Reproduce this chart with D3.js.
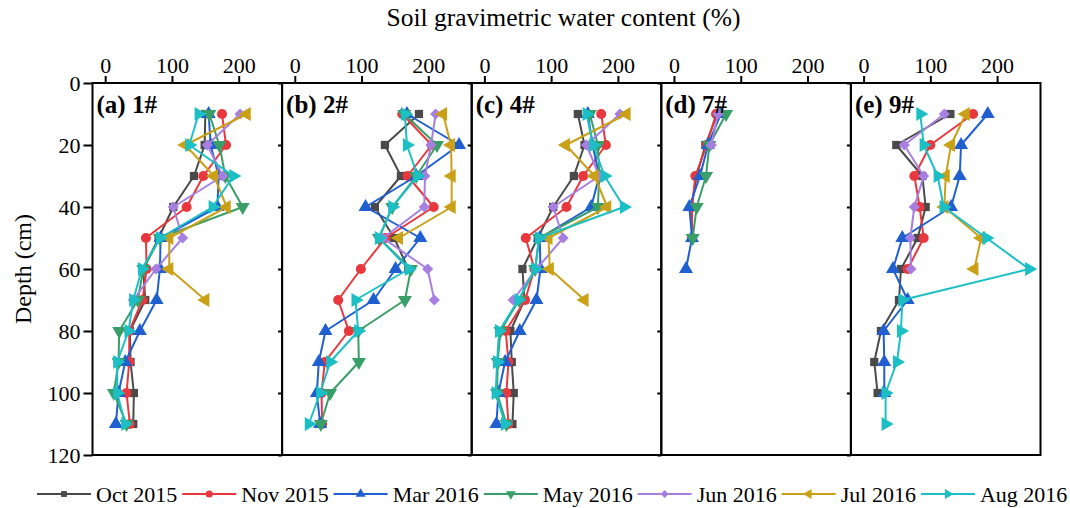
<!DOCTYPE html>
<html>
<head>
<meta charset="utf-8">
<script src="https://cdn.jsdelivr.net/npm/d3@7"></script>
<style>
  body { margin: 0; background: #fff; }
  svg { display: block; }
  text { font-family: "Liberation Serif", "Times New Roman", serif; fill: #000; }
</style>
</head>
<body>
<svg id="chart" width="1070" height="508"></svg>
<script>
// Sampling depths (cm)
const depths = [10, 20, 30, 40, 50, 60, 70, 80, 90, 100, 110];

// Sampling campaigns
const seriesNames = ["Oct 2015", "Nov 2015", "Mar 2016", "May 2016", "Jun 2016", "Jul 2016", "Aug 2016"];

// Site panels
const siteLabels = ["(a) 1#", "(b) 2#", "(c) 4#", "(d) 7#", "(e) 9#"];

// Axis ticks
const xTicks = [0, 100, 200];
const yTicks = [0, 20, 40, 60, 80, 100, 120];

// Gravimetric water content (%) per campaign, by depth; null = not sampled
const site1 = [
  [150, 149, 133, 102, 80, 57, 60, 37, 38, 43, 42],
  [175, 181, 147, 122, 61, 62, 56, 36, 36, 32, 37],
  [155, 158, 170, 168, 83, 82, 77, 52, 30, 20, 16],
  [156, 171, 180, 206, 82, 57, 49, 21, 20, 13, 32],
  [202, 153, 176, 102, 116, 76, 42, null, null, null, null],
  [212, 120, 163, 182, 96, 96, 150, null, null, null, null],
  [140, 126, 192, 161, 82, 55, 42, 35, 18, 18, 30]
];
const site2 = [
  [186, 135, 159, 120, 149, 170, null, null, null, null, null],
  [161, 205, 169, 208, 136, 99, 65, 81, 45, 40, 41],
  [168, 246, 182, 106, 188, 151, 118, 46, 36, 33, 38],
  [164, 213, 182, 146, 126, 174, 165, 95, 96, 53, 39],
  [211, 204, 195, 194, 132, 199, 209, null, null, null, null],
  [222, 234, 235, 235, 156, null, null, null, null, null, null],
  [165, 168, 184, 146, 126, 171, 91, 95, 53, 38, 21]
];
const site4 = [
  [140, 150, 134, 103, 80, 57, 60, 39, 41, 44, 42],
  [175, 182, 148, 123, 62, 75, 61, 32, 36, 33, 36],
  [155, 162, 172, 160, 83, 84, 78, 53, 31, 21, 18],
  [158, 170, 172, 170, 82, 76, 52, 24, 20, 19, 33],
  [203, 153, 172, 103, 118, 78, 43, null, null, null, null],
  [213, 122, 165, 184, 96, 98, 150, null, null, null, null],
  [153, 163, 180, 209, 82, 76, 51, 22, 19, 17, 31]
];
const site7 = [
  [65, 47, 34, 26, 28, null, null, null, null, null, null],
  [63, 49, 32, 27, 27, null, null, null, null, null, null],
  [70, 51, 39, 23, 27, 18, null, null, null, null, null],
  [78, 53, 48, 34, 28, null, null, null, null, null, null],
  [66, 56, null, null, null, null, null, null, null, null, null],
  [null, null, null, null, null, null, null, null, null, null, null],
  [null, null, null, null, null, null, null, null, null, null, null]
];
const site9 = [
  [130, 49, 88, 93, 81, 56, 53, 26, 16, 21, null],
  [164, 100, 76, 84, 90, 66, null, null, null, null, null],
  [186, 146, 144, 131, 58, 44, 66, 30, 31, 31, null],
  [null, null, null, null, null, null, null, null, null, null, null],
  [121, 61, 90, 76, 70, 71, null, null, null, null, null],
  [153, 131, 123, 121, 176, 166, null, null, null, null, null],
  [85, 90, 111, 120, 184, 248, 58, 56, 50, 33, 33]
];
const sites = [site1, site2, site4, site7, site9];

// Styling
const colors = ["#4a4a4a", "#e8383e", "#1f5fcf", "#3a9e69", "#a77fe0", "#c9a016", "#1cbfc4"];
const shapes = [
  { type: d3.symbolSquare, rot: 0, size: 68 },
  { type: d3.symbolCircle, rot: 0, size: 80 },
  { type: d3.symbolTriangle, rot: 0, size: 85 },
  { type: d3.symbolTriangle, rot: 180, size: 85 },
  { type: d3.symbolSquare, rot: 45, size: 62 },
  { type: d3.symbolTriangle, rot: -90, size: 85 },
  { type: d3.symbolTriangle, rot: 90, size: 85 }
];

const svg = d3.select("#chart");
const panelLeft = 92.5, panelW = 189.6, plotTop = 83, plotBottom = 455;

const y = d3.scaleLinear().domain([0, 120]).range([plotTop, plotBottom]);

const symbolPath = i => d3.symbol().type(shapes[i].type).size(shapes[i].size)();

sites.forEach((site, p) => {
  const x0 = panelLeft + p * panelW;
  const x = d3.scaleLinear().domain([-19, 265]).range([x0, x0 + panelW]);
  const g = svg.append("g");

  // Series lines and markers
  site.forEach((vals, s) => {
    const pts = depths.map((d, k) => ({ d, v: vals[k] })).filter(o => o.v != null);
    if (!pts.length) return;
    g.append("path")
      .datum(pts)
      .attr("fill", "none")
      .attr("stroke", colors[s])
      .attr("stroke-width", 2)
      .attr("stroke-linejoin", "round")
      .attr("d", d3.line().x(o => x(o.v)).y(o => y(o.d)));
    g.selectAll(null).data(pts).enter().append("path")
      .attr("d", symbolPath(s))
      .attr("fill", colors[s])
      .attr("transform", o => `translate(${x(o.v)},${y(o.d)}) rotate(${shapes[s].rot})`);
  });

  // Top axis
  const ax = svg.append("g").attr("transform", `translate(0,${plotTop})`)
    .call(d3.axisTop(x).tickValues(xTicks).tickSize(7).tickPadding(3));
  ax.select(".domain").remove();
  ax.selectAll("line").attr("stroke", "#000").attr("stroke-width", 2);
  ax.selectAll("text").attr("font-size", 22).attr("font-family", "Liberation Serif");

  // Left axis
  const ay = svg.append("g").attr("transform", `translate(${x0},0)`)
    .call(d3.axisLeft(y).tickValues(yTicks).tickSize(p === 0 ? 9 : 4).tickPadding(3)
      .tickFormat(p === 0 ? d3.format("d") : ""));
  ay.select(".domain").remove();
  ay.selectAll("line").attr("stroke", "#000").attr("stroke-width", 2);
  ay.selectAll("text").attr("font-size", 22).attr("font-family", "Liberation Serif");

  // Frame
  svg.append("rect")
    .attr("x", x0).attr("y", plotTop).attr("width", panelW).attr("height", plotBottom - plotTop)
    .attr("fill", "none").attr("stroke", "#000").attr("stroke-width", 2);

  // Site label
  svg.append("text")
    .attr("x", x0 + 4).attr("y", plotTop + 30)
    .attr("font-size", 25).attr("font-weight", "bold")
    .text(siteLabels[p]);
});

// Titles
svg.append("text")
  .attr("x", panelLeft + 2.5 * panelW - 3).attr("y", 26)
  .attr("text-anchor", "middle").attr("font-size", 25.5)
  .text("Soil gravimetric water content (%)");

svg.append("text")
  .attr("transform", `translate(31,${(plotTop + plotBottom) / 2}) rotate(-90)`)
  .attr("text-anchor", "middle").attr("font-size", 24)
  .text("Depth (cm)");

// Legend
const legend = svg.append("g").attr("transform", "translate(0,494)");
let lx = 37;
seriesNames.forEach((name, s) => {
  const item = legend.append("g").attr("transform", `translate(${lx},0)`);
  item.append("line").attr("x1", 0).attr("x2", 54).attr("y1", 0).attr("y2", 0)
    .attr("stroke", colors[s]).attr("stroke-width", 2);
  item.append("path").attr("d", d3.symbol().type(shapes[s].type).size(shapes[s].size * 0.5)())
    .attr("fill", colors[s]).attr("transform", `translate(27,0) rotate(${shapes[s].rot})`);
  const t = item.append("text").attr("x", 59).attr("y", 7.5).attr("font-size", 22).text(name);
  lx += 59 + t.node().getComputedTextLength() + 5;
});
</script>
</body>
</html>
